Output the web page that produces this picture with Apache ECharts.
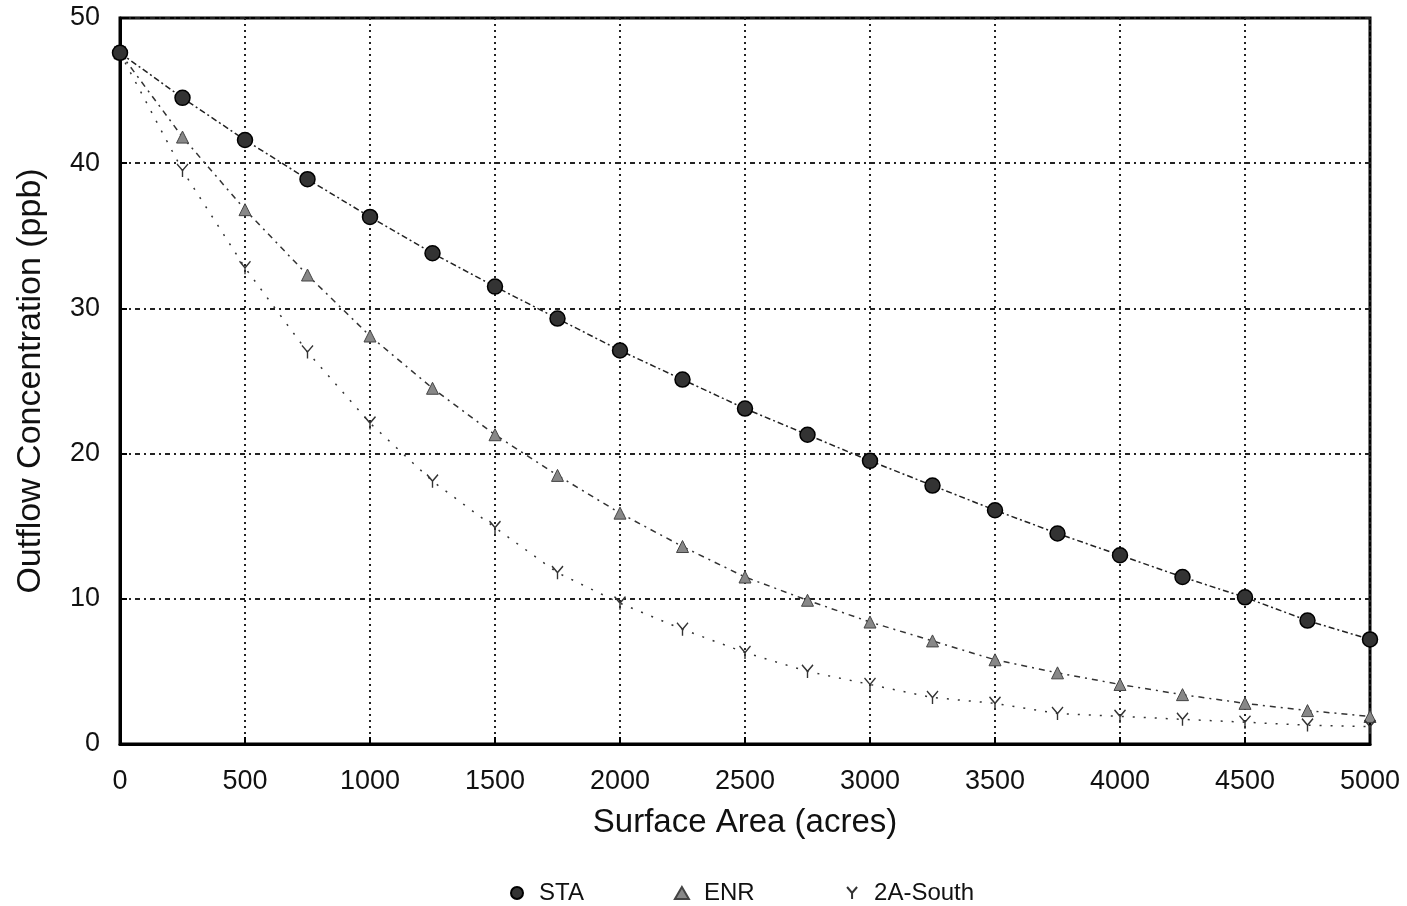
<!DOCTYPE html>
<html>
<head>
<meta charset="utf-8">
<script src="https://cdn.jsdelivr.net/npm/echarts@6/dist/echarts.min.js"></script>
<style>
  html, body { margin: 0; padding: 0; background: #fff; }
  #chart { width: 1407px; height: 906px; }
</style>
</head>
<body>
<div id="chart"></div>
<script>
// surface area (acres)
const areas = [0, 250, 500, 750, 1000, 1250, 1500, 1750, 2000, 2250, 2500,
  2750, 3000, 3250, 3500, 3750, 4000, 4250, 4500, 4750, 5000]

// outflow concentration (ppb)
const sta = [47.6, 44.5, 41.6, 38.9, 36.3, 33.8, 31.5, 29.3, 27.1, 25.1, 23.1,
  21.3, 19.5, 17.8, 16.1, 14.5, 13.0, 11.5, 10.1, 8.5, 7.2]
const enr = [47.6, 41.8, 36.8, 32.3, 28.1, 24.5, 21.3, 18.5, 15.9, 13.6, 11.5,
  9.9, 8.4, 7.1, 5.8, 4.9, 4.1, 3.4, 2.8, 2.3, 1.9]
const south2a = [47.6, 39.5, 32.8, 27.0, 22.1, 18.1, 14.9, 11.8, 9.7, 7.9, 6.3,
  5.0, 4.1, 3.2, 2.8, 2.1, 1.9, 1.7, 1.5, 1.3, 1.2]

const font = 'Liberation Sans, Arial, sans-serif'
const pairs = (ys) => areas.map((x, i) => [x, ys[i]])

// Y shaped marker for 2A-South
const ySymbol = 'path://M0,0 L5,6 L10,0 M5,6 L5,12'

const myChart = echarts.init(document.getElementById('chart'))
const option = {
  animation: false,
  textStyle: { fontFamily: font },
  grid: {
    left: 120,
    right: 37,
    top: 18,
    bottom: 162,
    show: true,
    borderColor: '#000',
    borderWidth: 3,
    containLabel: false
  },
  legend: {
    top: 876,
    left: 505,
    itemGap: 90,
    itemWidth: 14,
    itemHeight: 12,
    textStyle: { fontFamily: font, fontSize: 24, color: '#111', padding: [0, 0, 0, 10] },
    data: [
      { name: 'STA', icon: 'circle' },
      { name: 'ENR', icon: 'triangle' },
      { name: '2A-South', icon: ySymbol }
    ]
  },
  xAxis: {
    type: 'value',
    min: 0,
    max: 5000,
    interval: 500,
    name: 'Surface Area (acres)',
    nameLocation: 'middle',
    nameGap: 62,
    nameTextStyle: { fontFamily: font, fontSize: 33, color: '#111' },
    axisLine: { lineStyle: { color: '#000', width: 3 } },
    axisTick: { inside: true, length: 7, lineStyle: { color: '#000', width: 2 } },
    axisLabel: { fontFamily: font, fontSize: 27, color: '#111', margin: 24, formatter: (v) => String(v) },
    splitLine: { show: true, lineStyle: { color: '#222', width: 2, type: [2, 4] } }
  },
  yAxis: {
    type: 'value',
    min: 0,
    max: 50,
    interval: 10,
    name: 'Outflow Concentration (ppb)',
    nameLocation: 'middle',
    nameGap: 72,
    nameTextStyle: { fontFamily: font, fontSize: 34, color: '#111' },
    axisLine: { show: true, lineStyle: { color: '#000', width: 3 } },
    axisTick: { show: true, inside: true, length: 7, lineStyle: { color: '#000', width: 2 } },
    axisLabel: { fontFamily: font, fontSize: 27, color: '#111', margin: 20 },
    splitLine: { show: true, lineStyle: { color: '#222', width: 2, type: [5, 4, 2, 4] } }
  },
  series: [
    {
      name: 'STA',
      type: 'line',
      data: pairs(sta),
      symbol: 'circle',
      symbolSize: 15,
      itemStyle: { color: '#333', borderColor: '#000', borderWidth: 1.5 },
      lineStyle: { color: '#222', width: 1.5, type: [6, 3, 2, 3] },
      z: 3
    },
    {
      name: 'ENR',
      type: 'line',
      data: pairs(enr),
      symbol: 'triangle',
      symbolSize: 12,
      itemStyle: { color: '#888', borderColor: '#444', borderWidth: 1 },
      lineStyle: { color: '#333', width: 1.5, type: [6, 5, 2, 5] },
      z: 2
    },
    {
      name: '2A-South',
      type: 'line',
      data: pairs(south2a),
      symbol: ySymbol,
      symbolSize: [11, 13],
      itemStyle: { color: 'none', borderColor: '#333', borderWidth: 1.5 },
      lineStyle: { color: '#333', width: 1.5, type: [2, 9] },
      z: 2
    }
  ]
}
myChart.setOption(option)
</script>
</body>
</html>
